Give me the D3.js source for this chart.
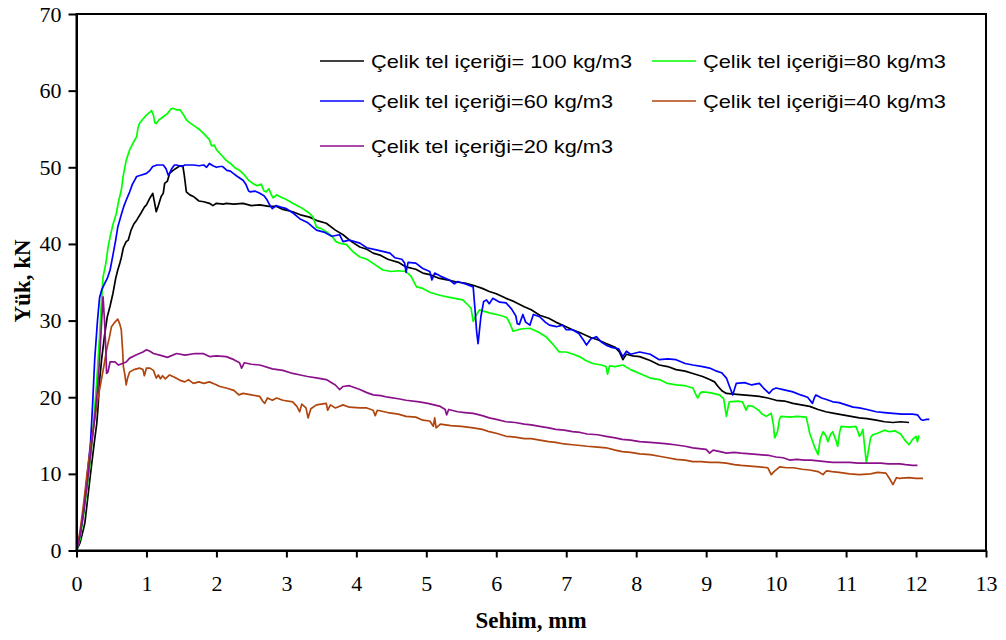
<!DOCTYPE html>
<html>
<head>
<meta charset="utf-8">
<script src="https://cdn.jsdelivr.net/npm/d3@7"></script>
<style>
  html, body { margin: 0; padding: 0; background: #fff; }
  svg { display: block; }
</style>
</head>
<body>
<svg id="chart" width="1006" height="640"></svg>
<script>
// Load–deflection curves of steel-fibre reinforced beams, [deflection mm, load kN]
const steel100 = [[0,0],[0.05,1.0],[0.1,2.8],[0.12,3.6],[0.15,6],[0.19,9.2],[0.22,11.5],[0.26,14.5],[0.29,16.6],[0.31,19],[0.33,22.2],[0.36,25],[0.4,28],[0.44,30.5],[0.48,31.9],[0.52,33.5],[0.56,35.5],[0.59,36.6],[0.62,37.5],[0.64,38.2],[0.67,39.5],[0.71,40.3],[0.74,40.5],[0.78,41.8],[0.82,42.6],[0.86,43.1],[0.92,44.0],[0.97,44.8],[1.0,45.1],[1.05,46.0],[1.09,46.6],[1.12,45.2],[1.14,44.2],[1.17,45.0],[1.21,46.2],[1.24,46.6],[1.26,47.9],[1.30,48.2],[1.33,49.2],[1.38,49.6],[1.43,49.9],[1.48,50.2],[1.52,50.2],[1.54,49.0],[1.55,48.3],[1.57,46.8],[1.62,46.4],[1.67,46.2],[1.75,45.6],[1.82,45.5],[1.9,45.3],[1.95,45.0],[2.0,45.3],[2.1,45.2],[2.14,45.3],[2.25,45.2],[2.38,45.3],[2.5,45.0],[2.62,45.1],[2.75,44.9],[2.86,44.9],[2.95,44.5],[3.09,44.2],[3.2,43.8],[3.33,43.5],[3.45,43.0],[3.57,42.7],[3.7,41.8],[3.81,41.2],[3.93,40.3],[4.05,39.6],[4.15,39.3],[4.24,38.8],[4.35,38.5],[4.45,38.0],[4.6,37.6],[4.71,37.0],[4.85,36.7],[4.95,36.2],[5.05,36.0],[5.19,35.5],[5.3,35.3],[5.45,35.0],[5.55,34.9],[5.67,34.6],[5.8,34.2],[5.9,33.8],[6.0,33.5],[6.14,32.9],[6.25,32.5],[6.4,31.8],[6.5,31.4],[6.62,30.7],[6.75,30.3],[6.85,29.8],[6.95,29.4],[7.09,28.8],[7.2,28.4],[7.35,27.8],[7.45,27.5],[7.57,27.0],[7.7,26.5],[7.76,25.9],[7.81,24.9],[7.86,25.6],[7.95,25.4],[8.05,25.3],[8.2,24.8],[8.33,24.2],[8.45,24.0],[8.57,23.6],[8.7,23.4],[8.81,23.1],[8.95,22.7],[9.05,22.3],[9.12,22.0],[9.17,21.4],[9.23,20.8],[9.29,20.5],[9.4,20.4],[9.52,20.3],[9.65,20.2],[9.76,20.1],[9.88,19.9],[10.0,19.6],[10.12,19.5],[10.24,19.2],[10.36,19.0],[10.48,18.8],[10.6,18.4],[10.71,18.1],[10.83,17.9],[10.95,17.7],[11.07,17.5],[11.19,17.3],[11.3,17.2],[11.43,17.0],[11.55,16.8],[11.67,16.7],[11.78,16.8],[11.9,16.7]];

const steel80 = [[0,0],[0.05,1.5],[0.1,4.5],[0.15,8],[0.19,11],[0.22,14],[0.26,18.5],[0.29,22.2],[0.33,28],[0.36,33],[0.38,35.7],[0.42,37.5],[0.45,39.5],[0.48,40.9],[0.52,42.5],[0.57,44.0],[0.6,45.5],[0.64,47.0],[0.67,49],[0.71,50.9],[0.76,52.3],[0.81,53.2],[0.86,54.0],[0.88,55.2],[0.9,55.7],[0.95,56.3],[1.0,56.8],[1.05,57.2],[1.07,57.4],[1.1,56.8],[1.12,55.8],[1.14,55.7],[1.18,56.2],[1.24,56.6],[1.3,57.0],[1.35,57.6],[1.38,57.7],[1.43,57.5],[1.48,57.5],[1.52,57.0],[1.57,56.2],[1.62,55.8],[1.7,55.3],[1.76,54.9],[1.83,54.3],[1.9,53.6],[1.93,52.8],[1.97,52.9],[2.0,52.3],[2.07,51.6],[2.14,50.9],[2.2,50.5],[2.27,49.9],[2.33,49.6],[2.4,49.0],[2.46,48.3],[2.52,47.9],[2.58,47.6],[2.64,47.8],[2.68,46.9],[2.71,46.8],[2.75,47.2],[2.78,46.5],[2.81,46.0],[2.86,46.4],[2.95,46.0],[3.0,45.8],[3.09,45.3],[3.2,44.8],[3.33,44.0],[3.38,43.5],[3.43,42.2],[3.5,42.0],[3.57,41.6],[3.65,41.0],[3.71,40.3],[3.76,40.1],[3.86,39.9],[3.95,39.0],[4.05,38.3],[4.15,38.0],[4.25,37.4],[4.38,36.6],[4.5,36.4],[4.6,36.5],[4.71,36.4],[4.78,35.8],[4.86,34.4],[4.95,34.2],[5.05,33.7],[5.19,33.3],[5.35,33.0],[5.52,32.7],[5.6,32.0],[5.64,31.6],[5.67,29.9],[5.7,30.5],[5.76,31.4],[5.9,31.0],[6.05,30.7],[6.15,30.4],[6.2,29.5],[6.24,28.6],[6.35,28.9],[6.48,29.0],[6.6,28.5],[6.71,27.9],[6.8,27.0],[6.9,25.9],[7.0,25.9],[7.1,25.6],[7.19,25.3],[7.28,24.8],[7.38,24.4],[7.5,24.2],[7.57,24.0],[7.59,23.0],[7.62,24.1],[7.7,24.0],[7.81,24.2],[7.92,23.6],[8.05,23.1],[8.2,22.5],[8.33,22.3],[8.45,21.8],[8.57,21.6],[8.7,21.5],[8.81,21.2],[8.86,20.2],[8.88,19.9],[8.92,20.6],[8.95,20.7],[9.05,20.6],[9.19,20.3],[9.25,19.8],[9.29,17.5],[9.31,18.5],[9.33,19.4],[9.45,19.5],[9.52,19.4],[9.57,18.3],[9.6,18.9],[9.67,18.8],[9.75,18.3],[9.8,17.8],[9.86,17.5],[9.93,17.9],[9.96,16.5],[9.98,14.7],[10.02,15.5],[10.05,17.2],[10.07,17.5],[10.2,17.4],[10.3,17.5],[10.43,17.4],[10.46,16.2],[10.48,15.3],[10.55,13.5],[10.6,12.5],[10.63,14.5],[10.67,15.5],[10.71,15.0],[10.74,14.2],[10.78,15.2],[10.81,15.5],[10.85,14.5],[10.88,13.6],[10.91,15.5],[10.93,16.2],[11.05,16.1],[11.14,16.2],[11.17,15.5],[11.19,14.9],[11.22,15.3],[11.24,15.8],[11.26,14.0],[11.29,11.4],[11.31,12.5],[11.35,14.7],[11.38,15.1],[11.45,15.3],[11.55,15.7],[11.62,15.5],[11.7,15.6],[11.78,15.2],[11.85,14.3],[11.9,13.8],[11.95,14.5],[12.0,14.9],[12.02,14.2],[12.04,15.0]];

const steel60 = [[0,0],[0.05,2],[0.1,5],[0.15,9.5],[0.2,14],[0.23,19],[0.26,24.9],[0.3,30],[0.33,33],[0.36,34.0],[0.4,34.8],[0.44,35.5],[0.48,36.6],[0.52,38.5],[0.56,40.5],[0.59,42.2],[0.64,43.8],[0.68,45.0],[0.71,45.7],[0.76,46.8],[0.8,47.8],[0.83,48.3],[0.86,48.8],[0.93,49.0],[1.0,49.2],[1.05,49.6],[1.09,50.1],[1.15,50.3],[1.2,50.3],[1.24,50.3],[1.28,49.8],[1.31,49.0],[1.33,49.2],[1.36,49.8],[1.4,50.3],[1.43,50.3],[1.5,50.1],[1.55,50.3],[1.6,50.3],[1.67,50.3],[1.75,50.2],[1.82,50.3],[1.86,50.0],[1.9,50.5],[1.95,50.2],[2.0,50.0],[2.05,50.1],[2.09,50.1],[2.15,49.6],[2.2,49.5],[2.24,49.2],[2.3,48.8],[2.38,48.3],[2.42,47.8],[2.46,46.9],[2.48,46.8],[2.55,46.9],[2.62,46.6],[2.68,46.3],[2.72,45.8],[2.76,45.1],[2.8,44.6],[2.85,45.0],[2.92,44.8],[3.0,44.6],[3.1,44.0],[3.19,43.3],[3.3,42.8],[3.43,41.8],[3.55,41.5],[3.65,41.0],[3.76,41.2],[3.81,40.3],[3.9,40.5],[4.05,40.1],[4.15,39.5],[4.3,39.2],[4.48,38.8],[4.55,38.2],[4.65,38.0],[4.69,37.5],[4.71,36.3],[4.74,37.6],[4.85,37.5],[4.95,36.8],[5.05,36.4],[5.08,35.3],[5.12,36.2],[5.2,35.8],[5.33,35.3],[5.4,34.8],[5.45,35.1],[5.55,34.8],[5.67,34.4],[5.7,31.0],[5.72,28.5],[5.74,27.0],[5.78,30.5],[5.82,32.5],[5.86,32.7],[5.9,32.2],[5.95,32.9],[6.05,32.4],[6.14,32.3],[6.22,31.5],[6.28,30.6],[6.3,29.6],[6.33,29.5],[6.38,30.8],[6.42,29.8],[6.48,29.4],[6.53,30.8],[6.62,30.5],[6.7,29.8],[6.76,29.4],[6.86,29.2],[6.95,29.4],[7.0,28.8],[7.09,28.8],[7.18,28.3],[7.25,27.4],[7.29,26.8],[7.35,27.6],[7.43,27.9],[7.5,27.2],[7.57,26.8],[7.65,26.5],[7.75,26.3],[7.81,25.3],[7.86,26.0],[7.92,25.6],[8.05,25.9],[8.2,25.6],[8.33,24.9],[8.45,25.0],[8.57,24.9],[8.7,24.4],[8.81,24.2],[8.95,24.0],[9.05,23.8],[9.15,23.4],[9.22,23.2],[9.29,22.5],[9.33,21.5],[9.38,20.3],[9.41,21.2],[9.43,21.8],[9.55,21.9],[9.65,21.6],[9.76,21.8],[9.82,21.2],[9.9,20.5],[9.95,21.0],[10.0,21.2],[10.1,21.0],[10.24,20.7],[10.35,20.3],[10.45,20.0],[10.52,19.2],[10.55,20.0],[10.57,20.3],[10.65,19.9],[10.72,19.7],[10.81,19.4],[10.9,19.3],[11.0,19.0],[11.1,18.7],[11.19,18.6],[11.3,18.4],[11.43,18.1],[11.55,18.0],[11.67,17.9],[11.8,17.8],[11.95,17.8],[12.02,17.7],[12.07,17.1],[12.1,17.0],[12.15,17.1],[12.19,17.1]];

const steel40 = [[0,0],[0.05,2.5],[0.1,6],[0.15,10],[0.2,13.5],[0.25,16.5],[0.3,19.5],[0.35,22],[0.4,24.5],[0.43,26.2],[0.47,27.8],[0.5,29.2],[0.55,29.8],[0.59,30.2],[0.62,29.5],[0.64,28.8],[0.66,26],[0.67,24.0],[0.69,23],[0.71,21.6],[0.73,22.5],[0.76,23.3],[0.82,23.6],[0.9,23.8],[0.95,23.6],[0.97,22.8],[1.0,23.8],[1.05,23.8],[1.1,23.5],[1.14,22.5],[1.17,22.9],[1.2,22.4],[1.23,22.8],[1.27,22.4],[1.33,22.9],[1.4,22.6],[1.48,22.2],[1.55,22.0],[1.6,22.3],[1.67,21.8],[1.75,22.0],[1.82,21.8],[1.9,22.0],[1.98,21.7],[2.05,21.4],[2.14,21.2],[2.25,20.9],[2.32,20.3],[2.38,20.5],[2.5,20.3],[2.62,20.1],[2.66,19.5],[2.69,19.2],[2.73,19.9],[2.8,19.6],[2.86,19.9],[2.95,19.6],[3.09,19.4],[3.15,18.8],[3.19,18.1],[3.22,19.1],[3.28,18.6],[3.31,17.3],[3.35,18.5],[3.43,19.0],[3.5,19.1],[3.57,19.2],[3.59,18.3],[3.63,19.0],[3.7,18.6],[3.81,19.0],[3.9,18.7],[4.05,18.6],[4.15,18.6],[4.24,18.3],[4.27,17.6],[4.3,18.3],[4.45,18.0],[4.6,17.8],[4.71,17.5],[4.85,17.4],[4.95,17.0],[5.05,16.9],[5.1,16.2],[5.12,17.3],[5.14,16.0],[5.2,16.5],[5.35,16.3],[5.5,16.2],[5.67,16.0],[5.8,15.8],[5.9,15.5],[6.0,15.3],[6.14,14.9],[6.27,14.8],[6.4,14.6],[6.5,14.6],[6.62,14.4],[6.75,14.2],[6.85,14.1],[6.97,13.9],[7.09,13.8],[7.2,13.7],[7.3,13.6],[7.45,13.5],[7.57,13.4],[7.7,13.1],[7.8,12.9],[7.92,12.8],[8.05,12.6],[8.2,12.5],[8.33,12.3],[8.45,12.1],[8.57,11.9],[8.7,11.8],[8.81,11.6],[8.93,11.6],[9.05,11.5],[9.17,11.5],[9.29,11.4],[9.4,11.2],[9.5,11.1],[9.63,11.0],[9.76,10.9],[9.88,10.8],[9.93,9.9],[9.97,10.3],[10.05,10.9],[10.15,10.8],[10.25,10.8],[10.37,10.6],[10.48,10.5],[10.6,10.3],[10.67,9.9],[10.72,10.4],[10.8,10.3],[10.9,10.2],[11.05,10.0],[11.19,9.9],[11.35,10.0],[11.45,10.2],[11.57,10.1],[11.62,9.4],[11.67,8.6],[11.72,9.5],[11.76,9.4],[11.9,9.5],[12.0,9.4],[12.1,9.4]];

const steel20 = [[0,0],[0.05,2],[0.1,5],[0.15,8.5],[0.2,12.5],[0.25,16.5],[0.3,21],[0.33,25],[0.36,30],[0.38,33.1],[0.4,30],[0.42,26],[0.43,23.1],[0.45,23.3],[0.48,24.6],[0.55,24.6],[0.6,24.2],[0.71,24.6],[0.76,25.1],[0.85,25.5],[0.95,25.9],[1.0,26.2],[1.05,26.0],[1.1,25.7],[1.19,25.5],[1.3,25.2],[1.43,25.7],[1.55,25.5],[1.7,25.7],[1.81,25.7],[1.9,25.3],[2.0,25.4],[2.14,25.3],[2.25,24.9],[2.33,24.5],[2.36,23.8],[2.4,24.5],[2.5,24.3],[2.62,24.2],[2.8,23.7],[2.95,23.5],[3.09,23.1],[3.2,22.9],[3.3,22.7],[3.45,22.5],[3.57,22.3],[3.7,21.6],[3.76,21.0],[3.81,21.4],[3.9,21.5],[4.05,21.0],[4.15,20.6],[4.24,20.3],[4.35,20.2],[4.45,20.0],[4.6,19.8],[4.71,19.6],[4.9,19.4],[5.02,19.2],[5.2,18.8],[5.27,18.4],[5.29,17.7],[5.32,18.4],[5.45,18.1],[5.55,18.0],[5.67,17.9],[5.8,17.6],[5.9,17.3],[6.0,17.1],[6.14,16.8],[6.27,16.7],[6.4,16.5],[6.5,16.4],[6.62,16.2],[6.75,16.0],[6.85,15.8],[6.97,15.7],[7.09,15.5],[7.2,15.4],[7.3,15.2],[7.45,15.1],[7.57,14.9],[7.7,14.7],[7.8,14.5],[7.92,14.4],[8.05,14.2],[8.2,14.1],[8.33,14.0],[8.45,13.9],[8.55,13.8],[8.7,13.6],[8.81,13.4],[8.9,13.3],[9.0,13.2],[9.05,12.7],[9.1,13.1],[9.2,12.9],[9.29,12.7],[9.4,12.8],[9.5,12.7],[9.63,12.6],[9.76,12.5],[9.9,12.4],[10.0,12.2],[10.1,12.1],[10.19,11.8],[10.3,11.9],[10.4,11.8],[10.5,11.8],[10.6,11.7],[10.7,11.6],[10.81,11.5],[10.95,11.5],[11.05,11.5],[11.17,11.4],[11.29,11.4],[11.4,11.4],[11.5,11.4],[11.6,11.3],[11.67,11.3],[11.77,11.3],[11.85,11.2],[11.95,11.1],[12.02,11.1]];

const seriesNames = [
  "Çelik tel içeriği= 100 kg/m3",
  "Çelik tel içeriği=80 kg/m3",
  "Çelik tel içeriği=60 kg/m3",
  "Çelik tel içeriği=40 kg/m3",
  "Çelik tel içeriği=20 kg/m3"
];
const seriesData = [steel100, steel80, steel60, steel40, steel20];
const seriesColors = ["#000000", "#00ff00", "#0000ff", "#b0460e", "#8b118b"];

const xTicks = [0,1,2,3,4,5,6,7,8,9,10,11,12,13];
const yTicks = [0,10,20,30,40,50,60,70];
const xTitle = "Sehim, mm";
const yTitle = "Yük, kN";

// Layout
const plot = { left: 76.5, right: 986, top: 14, bottom: 550.5 };

const svg = d3.select("#chart");
const x = d3.scaleLinear().domain([0, 13]).range([plot.left, plot.right]);
const y = d3.scaleLinear().domain([0, 70]).range([plot.bottom, plot.top]);

const serif = "'Liberation Serif', 'Times New Roman', serif";
const sans = "'Liberation Sans', Arial, sans-serif";

// Curves
const line = d3.line().x(d => x(d[0])).y(d => y(d[1]));
const curves = svg.append("g").attr("class", "curves");
seriesData.forEach((data, i) => {
  curves.append("path")
    .datum(data)
    .attr("fill", "none")
    .attr("stroke", seriesColors[i])
    .attr("stroke-width", 1.7)
    .attr("stroke-linejoin", "round")
    .attr("d", line);
});

// Frame
svg.append("rect")
  .attr("x", plot.left).attr("y", plot.top)
  .attr("width", plot.right - plot.left).attr("height", plot.bottom - plot.top)
  .attr("fill", "none").attr("stroke", "#000").attr("stroke-width", 2);

// Axes
const xAxis = svg.append("g")
  .attr("transform", `translate(0,${plot.bottom})`)
  .call(d3.axisBottom(x).tickValues(xTicks).tickSize(7).tickSizeOuter(0).tickPadding(18).tickFormat(d3.format("d")));
const yAxis = svg.append("g")
  .attr("transform", `translate(${plot.left},0)`)
  .call(d3.axisLeft(y).tickValues(yTicks).tickSize(8).tickSizeOuter(0).tickPadding(7).tickFormat(d3.format("d")));

[xAxis, yAxis].forEach(g => {
  g.select(".domain").attr("stroke", "#000").attr("stroke-width", 2);
  g.selectAll(".tick line").attr("stroke", "#000").attr("stroke-width", 2);
  g.selectAll(".tick text")
    .attr("fill", "#000")
    .style("font-family", serif)
    .style("font-size", "22px");
});

// Axis titles
svg.append("text")
  .attr("x", 531).attr("y", 628)
  .attr("text-anchor", "middle")
  .style("font-family", serif).style("font-size", "23px").style("font-weight", "bold")
  .text(xTitle);
svg.append("text")
  .attr("transform", "translate(30,281) rotate(-90)")
  .attr("text-anchor", "middle")
  .style("font-family", serif).style("font-size", "23px").style("font-weight", "bold")
  .text(yTitle);

// Legend: two columns, the wide Excel-style lettering is set with textLength
const legendPos = [
  { lx: 320, ly: 61, w: 261 },
  { lx: 652, ly: 61, w: 243 },
  { lx: 320, ly: 101, w: 242 },
  { lx: 652, ly: 101, w: 243 },
  { lx: 320, ly: 146, w: 242 }
];
const legend = svg.append("g").attr("class", "legend");
seriesNames.forEach((name, i) => {
  const p = legendPos[i];
  legend.append("line")
    .attr("x1", p.lx).attr("x2", p.lx + 44)
    .attr("y1", p.ly).attr("y2", p.ly)
    .attr("stroke", seriesColors[i]).attr("stroke-width", 1.7);
  legend.append("text")
    .attr("x", p.lx + 51).attr("y", p.ly + 6.8)
    .attr("textLength", p.w)
    .attr("lengthAdjust", "spacingAndGlyphs")
    .style("font-family", sans).style("font-size", "19px")
    .attr("fill", "#000")
    .text(name);
});
</script>
</body>
</html>
